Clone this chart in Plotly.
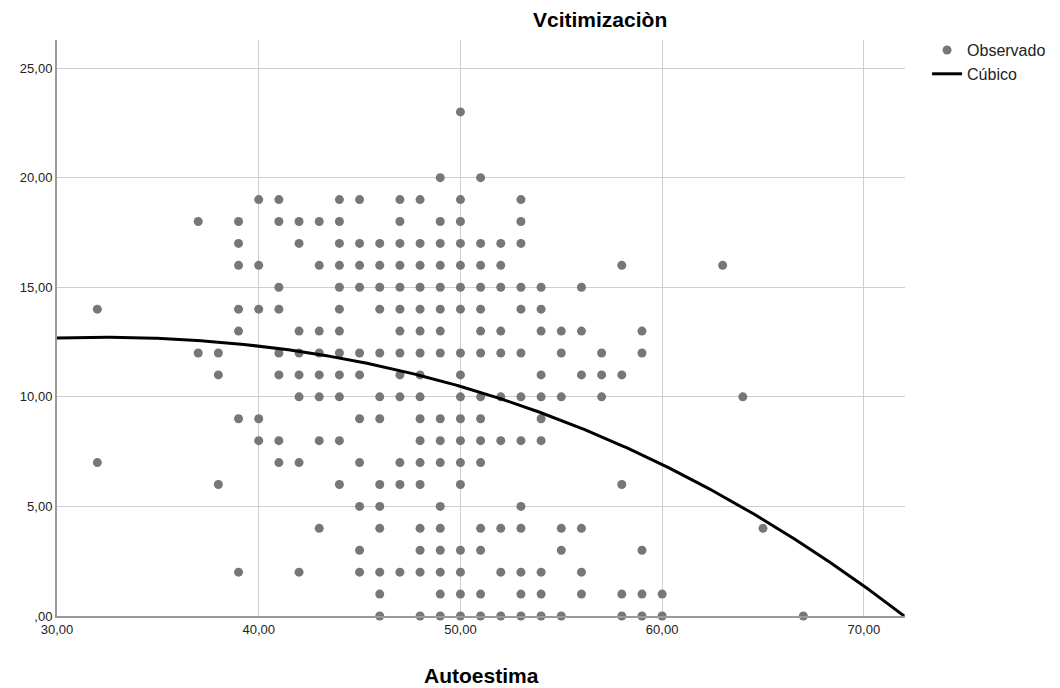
import numpy as np
import plotly.graph_objects as go

# Observed cases: for each Vcitimización level, the Autoestima scores present
vict_levels = [23, 20, 19, 18, 17, 16, 15, 14, 13, 12, 11, 10, 9, 8, 7, 6, 5, 4, 3, 2, 1, 0]
autoestima_by_level = [
    [50],
    [49, 51],
    [40, 41, 44, 45, 47, 48, 50, 53],
    [37, 39, 41, 42, 43, 44, 47, 49, 50, 53],
    [39, 42, 44, 45, 46, 47, 48, 49, 50, 51, 52, 53],
    [39, 40, 43, 44, 45, 46, 47, 48, 49, 50, 51, 52, 58, 63],
    [41, 44, 45, 46, 47, 48, 49, 50, 51, 52, 53, 54, 56],
    [32, 39, 40, 41, 44, 46, 47, 48, 49, 50, 51, 53, 54],
    [39, 42, 43, 44, 47, 48, 49, 51, 52, 54, 55, 56, 59],
    [37, 38, 41, 42, 43, 44, 45, 46, 47, 48, 49, 50, 51, 52, 53, 55, 57, 59],
    [38, 41, 42, 43, 44, 45, 47, 48, 50, 54, 56, 57, 58],
    [42, 43, 44, 46, 47, 48, 50, 51, 52, 53, 54, 55, 57, 64],
    [39, 40, 45, 46, 48, 49, 50, 51, 54],
    [40, 41, 43, 44, 48, 49, 50, 51, 52, 53, 54],
    [32, 41, 42, 45, 47, 48, 49, 50, 51],
    [38, 44, 46, 47, 48, 50, 58],
    [45, 46, 49, 53],
    [43, 46, 48, 49, 51, 52, 53, 55, 56, 65],
    [45, 48, 49, 50, 51, 55, 59],
    [39, 42, 45, 46, 47, 48, 49, 50, 52, 53, 54, 56],
    [46, 49, 50, 51, 53, 54, 56, 58, 59, 60],
    [46, 48, 49, 50, 51, 52, 53, 54, 55, 58, 59, 60, 67],
]

# Cubic model coefficients: b0 + b1*x + b2*x^2 + b3*x^3
cubic_coef = [7.4447, 0.2823, -0.002333, -0.000042]

x_ticks = [30, 40, 50, 60, 70]
x_tick_text = ["30,00", "40,00", "50,00", "60,00", "70,00"]
y_ticks = [0, 5, 10, 15, 20, 25]
y_tick_text = [",00", "5,00", "10,00", "15,00", "20,00", "25,00"]

obs_x, obs_y = [], []
for level, xs in zip(vict_levels, autoestima_by_level):
    obs_x.extend(xs)
    obs_y.extend([level] * len(xs))

X_MIN, X_MAX = 30, 72.04
Y_MIN, Y_MAX = 0, 26.28

# Fitted curve runs from the left edge down to where it meets zero
roots = np.roots(cubic_coef[::-1])
real_roots = [r.real for r in roots if abs(r.imag) < 1e-9 and X_MIN < r.real <= X_MAX + 1]
x_end = min(min(real_roots), X_MAX) if real_roots else X_MAX
curve_x = np.linspace(X_MIN, x_end, 400)
curve_y = np.clip(sum(c * curve_x ** i for i, c in enumerate(cubic_coef)), 0, None)

FONT = "Liberation Sans, Arial, sans-serif"
GRID = "#cfcfcf"
AXIS = "#9a9a9a"
TEXT = "#222222"

fig = go.Figure()
fig.add_trace(go.Scatter(
    x=obs_x, y=obs_y, mode="markers", name="Observado",
    marker=dict(color="#777777", size=9, line=dict(width=0)),
    cliponaxis=False,
))
fig.add_trace(go.Scatter(
    x=curve_x, y=curve_y, mode="lines", name="Cúbico",
    line=dict(color="#000000", width=3),
))

fig.update_layout(
    width=1060, height=688,
    margin=dict(l=57, r=155, t=40, b=72, autoexpand=False),
    paper_bgcolor="white", plot_bgcolor="white",
    font=dict(family=FONT, size=13, color=TEXT),
    showlegend=True,
    legend=dict(
        x=1.026, y=1.012, xanchor="left", yanchor="top",
        font=dict(family=FONT, size=16, color=TEXT),
        tracegroupgap=0, itemwidth=30, bgcolor="rgba(0,0,0,0)",
    ),
    xaxis=dict(
        range=[X_MIN, X_MAX], tickvals=x_ticks, ticktext=x_tick_text,
        showgrid=True, gridcolor=GRID, gridwidth=1, zeroline=False,
        showline=True, linecolor=AXIS, linewidth=2, ticks="",
        tickfont=dict(family=FONT, size=13, color=TEXT),
    ),
    yaxis=dict(
        range=[Y_MIN, Y_MAX], tickvals=y_ticks, ticktext=y_tick_text,
        showgrid=True, gridcolor=GRID, gridwidth=1, zeroline=False,
        showline=True, linecolor=AXIS, linewidth=2, ticks="",
        tickfont=dict(family=FONT, size=13, color=TEXT),
    ),
    annotations=[
        dict(text="<b>Vcitimizaciòn</b>", xref="paper", yref="paper",
             x=0.640, y=1.035, xanchor="center", yanchor="middle",
             showarrow=False, font=dict(family=FONT, size=21, color="#000000")),
        dict(text="<b>Autoestima</b>", xref="paper", yref="paper",
             x=0.5, y=-0.104, xanchor="center", yanchor="middle",
             showarrow=False, font=dict(family=FONT, size=21, color="#000000")),
    ],
)

fig.write_html("out.html")
